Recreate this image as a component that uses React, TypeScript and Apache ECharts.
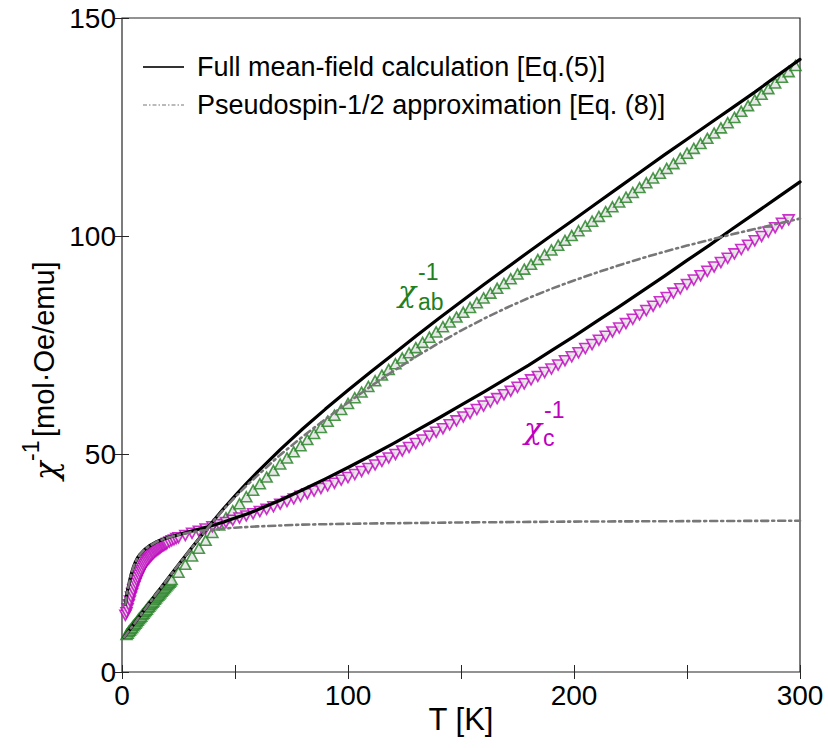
import React, { useEffect, useRef } from "react";
import * as echarts from "echarts";

// ---- Measured data: chi_ab^-1 (green, up triangles) ----
const abT = [2,2.5,3,3.5,4,4.5,5,5.5,6,6.5,7,7.5,8,8.5,9,9.5,10,10.5,11,11.5,12,12.5,13,13.5,14,14.5,15,15.5,16,16.5,17,17.5,18,18.5,19,19.5,20,20.5,21,21.5,22,
  25,28,31,34,37,40,43,46,49,52,55,58,61,64,67,70,73,76,79,82,85,88,91,94,97,100,
  103,106,109,112,115,118,121,124,127,130,133,136,139,142,145,148,151,154,157,160,
  163,166,169,172,175,178,181,184,187,190,193,196,199,202,205,208,211,214,217,220,
  223,226,229,232,235,238,241,244,247,250,253,256,259,262,265,268,271,274,277,280,
  283,286,289,292,295,298];
const abV = [8.6,8.9,9.3,9.6,9.9,10.2,10.6,10.9,11.2,11.5,11.9,12.2,12.5,12.8,13.2,13.5,13.8,14.1,14.4,14.8,15.1,15.4,15.7,16.0,16.3,16.7,17.0,17.3,17.6,17.9,18.2,18.5,18.8,19.1,19.4,19.7,20.0,20.3,20.6,20.9,21.2,
  22.9,24.7,26.6,28.4,30.2,32.0,33.7,35.4,37.0,38.6,40.2,41.7,43.2,44.7,46.2,47.7,49.1,50.5,51.9,53.3,54.7,56.1,57.5,58.9,60.2,61.6,
  62.9,64.2,65.5,66.8,68.1,69.4,70.7,72.0,73.2,74.4,75.6,76.8,78.0,79.2,80.3,81.4,82.5,83.6,84.7,85.8,
  86.9,88.0,89.1,90.2,91.3,92.4,93.5,94.6,95.7,96.8,97.9,99.0,100.1,101.2,102.3,103.4,104.5,105.6,106.7,107.8,
  108.9,110.0,111.1,112.2,113.3,114.4,115.5,116.6,117.8,119.0,120.1,121.2,122.4,123.6,124.8,126.0,127.2,128.6,129.9,131.2,
  132.5,133.8,135.1,136.4,137.7,139.1];

// ---- Measured data: chi_c^-1 (magenta, down triangles) ----
const cT = [1.5,2,2.5,3,3.5,4,4.5,5,5.5,6,6.5,7,7.5,8,8.5,9,9.5,10,10.5,11,11.5,12,12.5,13,13.5,14,14.5,15,15.5,16,16.5,17,17.5,18,18.5,19,19.5,20,21,22,23,24,25,
  28,31,34,37,40,43,46,49,52,55,58,61,64,67,70,73,76,79,82,85,88,91,94,97,100,
  103,106,109,112,115,118,121,124,127,130,133,136,139,142,145,148,151,154,157,160,
  163,166,169,172,175,178,181,184,187,190,193,196,199,202,205,208,211,214,217,220,
  223,226,229,232,235,238,241,244,247,250,253,256,259,262,265,268,271,274,277,280,
  283,286,289,292,295];
const cV = [13.0,13.6,14.5,15.4,16.3,17.2,18.0,18.8,19.6,20.3,21.0,21.6,22.2,22.8,23.3,23.8,24.3,24.7,25.1,25.5,25.8,26.1,26.4,26.7,27.0,27.2,27.5,27.7,27.9,28.1,28.3,28.5,28.7,28.9,29.0,29.2,29.3,29.5,29.8,30.1,30.3,30.6,30.8,
  31.3,31.8,32.3,32.8,33.3,33.8,34.3,34.8,35.3,35.8,36.3,36.8,37.3,37.9,38.5,39.1,39.7,40.3,40.9,41.5,42.1,42.7,43.3,44.0,44.6,
  45.3,46.0,46.7,47.5,48.3,49.1,49.9,50.7,51.5,52.4,53.2,54.1,55.0,55.8,56.7,57.6,58.5,59.3,60.2,61.0,
  61.9,62.7,63.6,64.4,65.3,66.1,67.0,67.8,68.7,69.5,70.4,71.4,72.3,73.2,74.2,75.1,76.1,77.0,78.0,78.9,
  79.9,80.9,81.9,82.9,83.9,84.9,85.9,86.9,87.9,88.9,89.9,90.9,91.9,92.9,93.9,94.9,95.9,96.9,97.9,98.9,
  99.9,100.9,101.9,102.9,103.7];

// ---- Full mean-field calculation [Eq.(5)] ----
const mfAbT = [1,5,10,15,20,25,30,35,40,45,50,55,60,70,80,90,100,110,120,130,140,150,160,170,180,190,200,210,220,230,240,250,260,270,280,290,300];
const mfAbV = [8,10.8,14.3,17.8,21.2,24.6,27.9,31.2,34.4,37.5,40.4,43.2,45.9,51.0,55.8,60.3,64.6,68.8,72.9,77.0,81.0,84.9,88.8,92.6,96.4,100.1,103.8,107.5,111.2,114.9,118.6,122.2,125.8,129.4,133.0,136.8,140.5];
const mfCT = [1.5,2,2.5,3,3.5,4,5,6,7,8,10,12,15,20,25,30,35,40,45,50,55,60,70,80,90,100,110,120,130,140,150,160,170,180,190,200,210,220,230,240,250,260,270,280,290,300];
const mfCV = [15.5,17.3,18.8,20,21.2,22.3,24,25.3,26.3,27,28.1,28.9,29.8,30.8,31.5,32.2,32.9,33.6,34.4,35.3,36.2,37.2,39.4,41.8,44.3,46.9,49.6,52.4,55.3,58.2,61.2,64.2,67.3,70.4,73.7,77,80.4,83.8,87.3,90.8,94.4,97.9,101.6,105.2,108.8,112.4];

// ---- Pseudospin-1/2 approximation [Eq. (8)] ----
const psAbT = [1,5,10,15,20,25,30,35,40,45,50,55,60,70,80,90,100,110,120,130,140,150,160,170,180,190,200,210,220,230,240,250,260,270,280,290,300];
const psAbV = [8,10.8,14.3,17.8,21.2,24.6,27.9,31.2,34.3,37.3,40.1,42.7,45.1,49.8,54.0,58.0,61.8,65.5,69.0,72.3,75.4,78.3,81.0,83.5,85.8,87.9,89.8,91.6,93.3,94.9,96.4,97.8,99.1,100.4,101.6,102.8,104.0];
const psCT = [1.5,2,2.5,3,3.5,4,5,6,7,8,10,12,15,20,25,30,35,40,50,60,80,100,150,200,250,300];
const psCV = [15.5,17.3,18.8,20,21.2,22.3,24,25.3,26.3,27,28.1,28.9,29.8,30.8,31.5,32,32.4,32.7,33.1,33.4,33.8,34,34.3,34.5,34.6,34.7];

const xTickLabels = ["0", "100", "200", "300"];
const yTickLabels = ["0", "50", "100", "150"];
const legendNames = ["Full mean-field calculation [Eq.(5)]", "Pseudospin-1/2 approximation [Eq. (8)]"];

const zip = (a: number[], b: number[]) => a.map((t, i) => [t, b[i]]);

const SANS = "Liberation Sans, Arial, Helvetica, sans-serif";
const SERIF = "DejaVu Serif, serif";
const GREEN = "#1f801f";
const MAGENTA = "#bf00bf";
const AXIS = "#262626";

export default function App() {
  const ref = useRef<HTMLDivElement>(null);
  useEffect(() => {
    if (!ref.current) return;
    const chart = echarts.init(ref.current, undefined, { renderer: "svg" });
    const tickStyle = { inside: true, length: 7, lineStyle: { color: AXIS, width: 1 } };
    const curve = (t: number[], v: number[], color: string, width: number, dash: any, z: number) => ({
      type: "line", data: zip(t, v), showSymbol: false, symbol: "none", smooth: false,
      lineStyle: { color, width, type: dash, cap: "round", join: "round" }, z,
    });
    const option: any = {
      animation: false,
      backgroundColor: "#fff",
      grid: { left: 122, top: 18, width: 678, height: 654, show: true, borderColor: AXIS, borderWidth: 1.2, backgroundColor: "transparent" },
      xAxis: [
        {
          type: "value", min: 0, max: 300, interval: 50, position: "bottom",
          axisLine: { show: false }, splitLine: { show: false }, axisTick: tickStyle,
          axisLabel: {
            margin: 9, fontSize: 28, fontFamily: SANS, color: "#000",
            formatter: (v: number) => (xTickLabels.includes(String(v)) ? String(v) : ""),
          },
        },
        {
          type: "value", min: 0, max: 300, interval: 50, position: "top",
          axisLine: { show: false }, splitLine: { show: false }, axisTick: tickStyle, axisLabel: { show: false },
        },
      ],
      yAxis: [
        {
          type: "value", min: 0, max: 150, interval: 50, position: "left",
          axisLine: { show: false }, splitLine: { show: false }, axisTick: tickStyle,
          axisLabel: {
            margin: 6, fontSize: 28, fontFamily: SANS, color: "#000",
            formatter: (v: number) => (yTickLabels.includes(String(v)) ? String(v) : ""),
          },
        },
        {
          type: "value", min: 0, max: 150, interval: 50, position: "right",
          axisLine: { show: false }, splitLine: { show: false }, axisTick: tickStyle, axisLabel: { show: false },
        },
      ],
      series: [
        {
          type: "scatter", data: zip(abT, abV), symbol: "triangle", symbolSize: [11, 10],
          itemStyle: { color: "#e2e2e2", borderColor: GREEN, borderWidth: 1.6 }, z: 2,
        },
        {
          type: "scatter", data: zip(cT, cV), symbol: "triangle", symbolRotate: 180, symbolSize: [11, 10],
          itemStyle: { color: "#e2e2e2", borderColor: MAGENTA, borderWidth: 1.6 }, z: 2,
        },
        { name: legendNames[0], ...curve(mfAbT, mfAbV, "#000", 3.2, "solid", 3) },
        curve(mfCT, mfCV, "#000", 3.2, "solid", 3),
        { name: legendNames[1], ...curve(psAbT, psAbV, "#777", 2.6, [7, 4, 2, 4], 4) },
        curve(psCT, psCV, "#777", 2.6, [7, 4, 2, 4], 4),
      ],
      graphic: [
        // legend
        { type: "line", shape: { x1: 143, y1: 67, x2: 184, y2: 67 }, style: { stroke: "#333", lineWidth: 2.2 }, z: 10 },
        { type: "text", x: 197, y: 67, style: { text: legendNames[0], fontSize: 27, fontFamily: SANS, fill: "#000", textVerticalAlign: "middle", verticalAlign: "middle" }, z: 10 },
        { type: "line", shape: { x1: 143, y1: 105, x2: 184, y2: 105 }, style: { stroke: "#777", lineWidth: 1.2, lineDash: [4, 2, 1.5, 2] }, z: 10 },
        { type: "text", x: 197, y: 105, style: { text: legendNames[1], fontSize: 27, fontFamily: SANS, fill: "#000", textVerticalAlign: "middle", verticalAlign: "middle" }, z: 10 },
        // chi_ab annotation
        { type: "text", x: 398, y: 291, style: { text: "χ", fontSize: 30, fontStyle: "italic", fontFamily: SERIF, fill: GREEN, textVerticalAlign: "middle", verticalAlign: "middle" }, z: 10 },
        { type: "text", x: 418, y: 272, style: { text: "-1", fontSize: 23, fontFamily: SANS, fill: GREEN, textVerticalAlign: "middle", verticalAlign: "middle" }, z: 10 },
        { type: "text", x: 418, y: 302, style: { text: "ab", fontSize: 23, fontFamily: SANS, fill: GREEN, textVerticalAlign: "middle", verticalAlign: "middle" }, z: 10 },
        // chi_c annotation
        { type: "text", x: 524, y: 428, style: { text: "χ", fontSize: 30, fontStyle: "italic", fontFamily: SERIF, fill: MAGENTA, textVerticalAlign: "middle", verticalAlign: "middle" }, z: 10 },
        { type: "text", x: 544, y: 410, style: { text: "-1", fontSize: 23, fontFamily: SANS, fill: MAGENTA, textVerticalAlign: "middle", verticalAlign: "middle" }, z: 10 },
        { type: "text", x: 543, y: 438, style: { text: "c", fontSize: 23, fontFamily: SANS, fill: MAGENTA, textVerticalAlign: "middle", verticalAlign: "middle" }, z: 10 },
        // x axis title
        { type: "text", x: 461, y: 719, style: { text: "T [K]", fontSize: 31, fontFamily: SANS, fill: "#000", textAlign: "center", align: "center", textVerticalAlign: "middle", verticalAlign: "middle" }, z: 10 },
        // y axis title (rotated)
        {
          type: "group", x: 44, y: 480, rotation: Math.PI / 2, z: 10,
          children: [
            { type: "text", x: 0, y: 2, style: { text: "χ", fontSize: 31, fontStyle: "italic", fontFamily: SERIF, fill: "#000", textVerticalAlign: "middle", verticalAlign: "middle" } },
            { type: "text", x: 19, y: -13, style: { text: "-1", fontSize: 23, fontFamily: SANS, fill: "#000", textVerticalAlign: "middle", verticalAlign: "middle" } },
            { type: "text", x: 43, y: 0, style: { text: "[mol·Oe/emu]", fontSize: 29, fontFamily: SANS, fill: "#000", textVerticalAlign: "middle", verticalAlign: "middle" } },
          ],
        },
      ],
    };
    chart.setOption(option);
    return () => chart.dispose();
  }, []);
  return <div ref={ref} style={{ position: "fixed", left: 0, top: 0, width: 828, height: 748 }} />;
}
